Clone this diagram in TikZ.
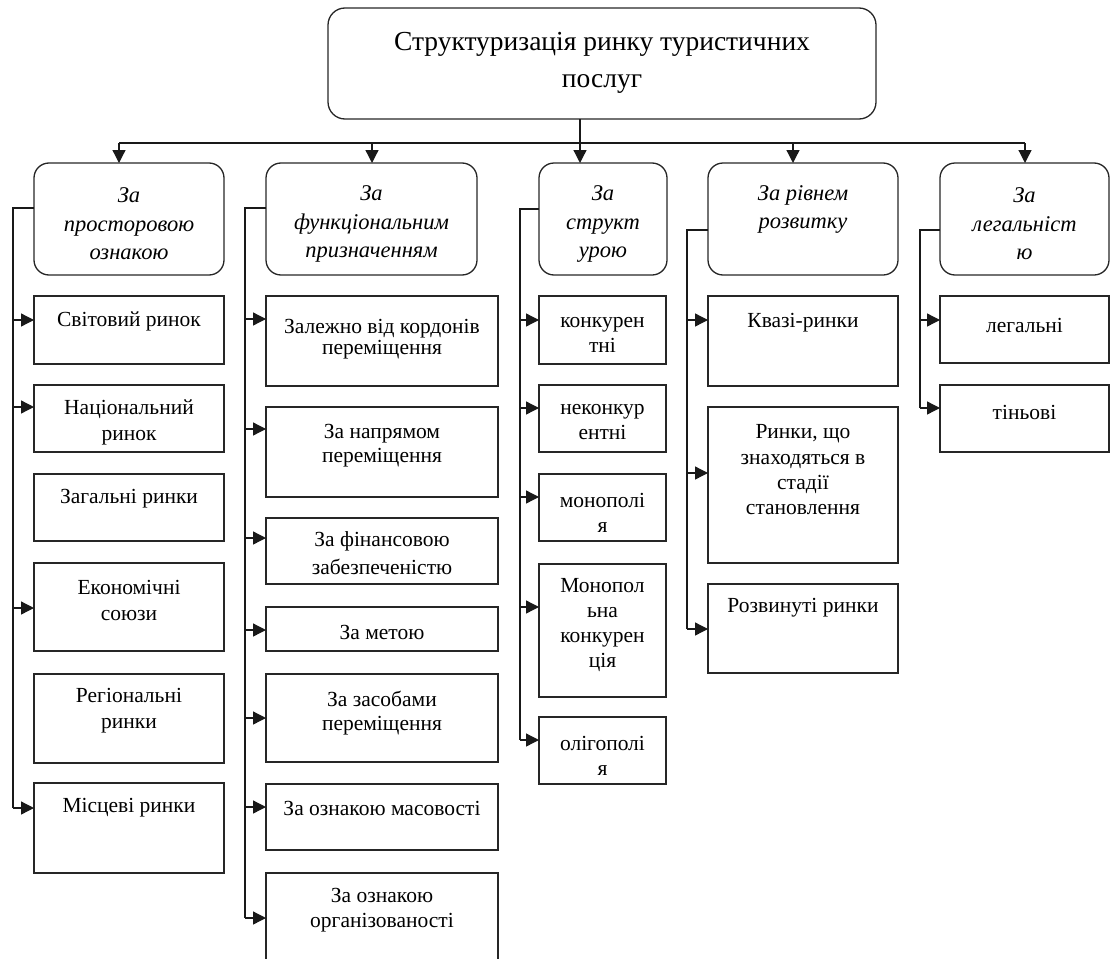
\documentclass[tikz,border=0pt]{standalone}
\usepackage{fontspec}
\setmainfont{Liberation Serif}
\usetikzlibrary{arrows.meta}
\begin{document}
\begin{tikzpicture}[x=1pt,y=-1pt,
  box/.style={draw=black!85, line width=1.3pt, anchor=north west, inner sep=0pt, outer sep=0pt},
  catbox/.style={box, rounded corners=15pt},
  txt/.style={align=center, inner sep=0pt, text=black, font=\fontsize{21.5}{#1}\selectfont},
  txt/.default=25,
  itx/.style={align=center, inner sep=0pt, text=black, font=\fontsize{22.5}{#1}\selectfont\itshape},
  itx/.default=28.5,
  ttl/.style={align=center, inner sep=0pt, text=black, font=\fontsize{27.5}{37}\selectfont},
  ln/.style={line width=1.3pt, draw=black!90},
  arr/.style={ln, -{Triangle[length=13pt,width=13pt]}}
]
\useasboundingbox (0,0) rectangle (1110,958);
\clip (0,0) rectangle (1110,958);

% top box
\node[catbox, rounded corners=17pt, minimum width=548, minimum height=111] (top) at (328,8) {};
\node[ttl] (toptx) at (602,63) {Структуризація ринку туристичних\\послуг};

% category boxes
\node[catbox, minimum width=190, minimum height=112] (cat1) at (34,163) {};
\node[catbox, minimum width=211, minimum height=112] (cat2) at (266,163) {};
\node[catbox, minimum width=128, minimum height=112] (cat3) at (539,163) {};
\node[catbox, minimum width=190, minimum height=112] (cat4) at (708,163) {};
\node[catbox, minimum width=169, minimum height=112] (cat5) at (940,163) {};
\node[itx] (cat1t) at (129,224) {За\\просторовою\\ознакою};
\node[itx] (cat2t) at (371.5,224) {За\\функціональним\\призначенням};
\node[itx] (cat3t) at (603,224) {За\\структ\\урою};
\node[itx=28] (cat4t) at (803,209) {За рівнем\\розвитку};
\node[itx] (cat5t) at (1024.5,224) {За\\легальніст\\ю};

% column 1
\node[box, minimum width=190, minimum height=68] (c1a) at (34,296) {};
\node[box, minimum width=190, minimum height=67] (c1b) at (34,385) {};
\node[box, minimum width=190, minimum height=67] (c1c) at (34,474) {};
\node[box, minimum width=190, minimum height=88] (c1d) at (34,563) {};
\node[box, minimum width=190, minimum height=89] (c1e) at (34,674) {};
\node[box, minimum width=190, minimum height=90] (c1f) at (34,783) {};
\node[txt] (c1at) at (129,321) {Світовий ринок};
\node[txt=26] (c1bt) at (129,422) {Національний\\ринок};
\node[txt] (c1ct) at (129,499) {Загальні ринки};
\node[txt=26] (c1dt) at (129,600) {Економічні\\союзи};
\node[txt=26] (c1et) at (129,711) {Регіональні\\ринки};
\node[txt] (c1ft) at (129,808) {Місцеві ринки};

% column 2
\node[box, minimum width=232, minimum height=90] (c2a) at (266,296) {};
\node[box, minimum width=232, minimum height=90] (c2b) at (266,407) {};
\node[box, minimum width=232, minimum height=66] (c2c) at (266,518) {};
\node[box, minimum width=232, minimum height=44] (c2d) at (266,607) {};
\node[box, minimum width=232, minimum height=88] (c2e) at (266,674) {};
\node[box, minimum width=232, minimum height=66] (c2f) at (266,784) {};
\node[box, minimum width=232, minimum height=100] (c2g) at (266,873) {};
\node[txt=21] (c2at) at (382,339) {Залежно від кордонів\\переміщення};
\node[txt=24] (c2bt) at (382,446) {За напрямом\\переміщення};
\node[txt=28] (c2ct) at (382,553) {За фінансовою\\забезпеченістю};
\node[txt] (c2dt) at (382,632) {За метою};
\node[txt=24] (c2et) at (382,713) {За засобами\\переміщення};
\node[txt] (c2ft) at (382,808) {За ознакою масовості};
\node[txt] (c2gt) at (382,910) {За ознакою\\організованості};

% column 3
\node[box, minimum width=127, minimum height=68] (c3a) at (539,296) {};
\node[box, minimum width=127, minimum height=67] (c3b) at (539,385) {};
\node[box, minimum width=127, minimum height=67] (c3c) at (539,474) {};
\node[box, minimum width=127, minimum height=133] (c3d) at (539,564) {};
\node[box, minimum width=127, minimum height=67] (c3e) at (539,717) {};
\node[txt] (c3at) at (602.5,334.5) {конкурен\\тні};
\node[txt] (c3bt) at (602.5,422.5) {неконкур\\ентні};
\node[txt] (c3ct) at (602.5,512.5) {монополі\\я};
\node[txt=25.3] (c3dt) at (602.5,625) {Монопол\\ьна\\конкурен\\ція};
\node[txt] (c3et) at (602.5,755.5) {олігополі\\я};

% column 4
\node[box, minimum width=190, minimum height=90] (c4a) at (708,296) {};
\node[box, minimum width=190, minimum height=156] (c4b) at (708,407) {};
\node[box, minimum width=190, minimum height=89] (c4c) at (708,584) {};
\node[txt] (c4at) at (803,323) {Квазі-ринки};
\node[txt=25.3] (c4bt) at (803,470) {Ринки, що\\знаходяться в\\стадії\\становлення};
\node[txt] (c4ct) at (803,608) {Розвинуті ринки};

% column 5
\node[box, minimum width=169, minimum height=67] (c5a) at (940,296) {};
\node[box, minimum width=169, minimum height=67] (c5b) at (940,385) {};
\node[txt] (c5at) at (1024.5,325) {легальні};
\node[txt] (c5bt) at (1024.5,412) {тіньові};

% top-level connectors
\coordinate (b1) at (119,143);
\coordinate (b2) at (372,143);
\coordinate (b3) at (580,143);
\coordinate (b4) at (793,143);
\coordinate (b5) at (1025,143);
\draw[ln] (b1) -- (b5);
\draw[arr] (top.south -| b3) -- (cat3.north -| b3);
\draw[arr] (b1) -- (cat1.north -| b1);
\draw[arr] (b2) -- (cat2.north -| b2);
\draw[arr] (b4) -- (cat4.north -| b4);
\draw[arr] (b5) -- (cat5.north -| b5);

% column 1 spine
\coordinate (s1) at (13,208);
\coordinate (e1) at (13,808);
\draw[ln] (cat1.west |- s1) -- (s1) -- (e1);
\draw[arr] (13,320) -- (c1a.west |- 0,320);
\draw[arr] (13,407) -- (c1b.west |- 0,407);
\draw[arr] (13,608) -- (c1d.west |- 0,608);
\draw[arr] (e1) -- (c1f.west |- e1);

% column 2 spine
\coordinate (s2) at (245,208);
\coordinate (e2) at (245,918);
\draw[ln] (cat2.west |- s2) -- (s2) -- (e2);
\draw[arr] (245,319) -- (c2a.west |- 0,319);
\draw[arr] (245,429) -- (c2b.west |- 0,429);
\draw[arr] (245,538) -- (c2c.west |- 0,538);
\draw[arr] (245,630) -- (c2d.west |- 0,630);
\draw[arr] (245,718) -- (c2e.west |- 0,718);
\draw[arr] (245,807) -- (c2f.west |- 0,807);
\draw[arr] (e2) -- (c2g.west |- e2);

% column 3 spine
\coordinate (s3) at (520,209);
\coordinate (e3) at (520,740);
\draw[ln] (cat3.west |- s3) -- (s3) -- (e3);
\draw[arr] (520,320) -- (c3a.west |- 0,320);
\draw[arr] (520,408) -- (c3b.west |- 0,408);
\draw[arr] (520,497) -- (c3c.west |- 0,497);
\draw[arr] (520,607) -- (c3d.west |- 0,607);
\draw[arr] (e3) -- (c3e.west |- e3);

% column 4 spine
\coordinate (s4) at (687,230);
\coordinate (e4) at (687,629);
\draw[ln] (cat4.west |- s4) -- (s4) -- (e4);
\draw[arr] (687,320) -- (c4a.west |- 0,320);
\draw[arr] (687,473) -- (c4b.west |- 0,473);
\draw[arr] (e4) -- (c4c.west |- e4);

% column 5 spine
\coordinate (s5) at (920,230);
\coordinate (e5) at (920,408);
\draw[ln] (cat5.west |- s5) -- (s5) -- (e5);
\draw[arr] (920,320) -- (c5a.west |- 0,320);
\draw[arr] (e5) -- (c5b.west |- e5);
\end{tikzpicture}
\end{document}
